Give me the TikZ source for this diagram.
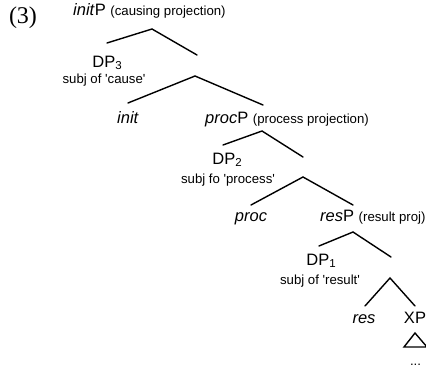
\documentclass[tikz,border=0pt]{standalone}
\usepackage{fontspec}
\setmainfont{Liberation Sans}
\newfontfamily\numfont{Liberation Serif}
\newcommand{\mainsz}{\fontsize{16.5}{18}\selectfont}
\newcommand{\smallsz}{\fontsize{13.2}{15}\selectfont}
\newcommand{\subsz}[1]{\raisebox{-2.5pt}{\fontsize{11.5}{12}\selectfont #1}}
\newcommand{\sq}{\textquotesingle}
\tikzset{
  lbl/.style={inner sep=0pt, anchor=base, font=\mainsz},
  note/.style={inner sep=0pt, anchor=base, font=\smallsz},
  branch/.style={line width=1.4pt, line cap=round}
}
\begin{document}
\begin{tikzpicture}[x=1pt,y=-1pt]
\useasboundingbox (0,0) rectangle (426,369);
% example number
\node[inner sep=0pt, anchor=base, font=\numfont\fontsize{24}{26}\selectfont] (num) at (23,24) {(3)};
% labels
\node[lbl, anchor=base west] (initP) at (73,16) {\textit{init}P {\smallsz (causing projection)}};
\node[lbl] (DP3) at (107,67) {DP\subsz{3}};
\node[note] (s3) at (104,84) {subj of \sq cause\sq};
\node[lbl] (init) at (128,123) {\textit{init}};
\node[lbl, anchor=base west] (procP) at (205,123) {\textit{proc}P {\smallsz (process projection)}};
\node[lbl] (DP2) at (227,164) {DP\subsz{2}};
\node[note] (s2) at (228,183) {subj fo \sq process\sq};
\node[lbl] (proc) at (251,221) {\textit{proc}};
\node[lbl, anchor=base west] (resP) at (320,221) {\textit{res}P {\smallsz (result proj)}};
\node[lbl] (DP1) at (321,265) {DP\subsz{1}};
\node[note] (s1) at (320,284) {subj of \sq result\sq};
\node[lbl] (res) at (364,323) {\textit{res}};
\node[lbl] (XP) at (415,323) {XP};
\node[note] (dots) at (415.5,365) {...};
% branch points
\coordinate (a1) at (152,29); \coordinate (l1) at (107,43); \coordinate (r1) at (197,55);
\coordinate (a2) at (195,76); \coordinate (l2) at (128,103); \coordinate (r2) at (263,105);
\coordinate (a3) at (262,131); \coordinate (l3) at (223,145); \coordinate (r3) at (303,157);
\coordinate (a4) at (303,177); \coordinate (l4) at (251,205); \coordinate (r4) at (353,205);
\coordinate (a5) at (353,232); \coordinate (l5) at (319,246); \coordinate (r5) at (391,257);
\coordinate (a6) at (390,278); \coordinate (l6) at (365,306); \coordinate (r6) at (415,306);
\draw[branch] (l1) -- (a1) -- (r1);
\draw[branch] (l2) -- (a2) -- (r2);
\draw[branch] (l3) -- (a3) -- (r3);
\draw[branch] (l4) -- (a4) -- (r4);
\draw[branch] (l5) -- (a5) -- (r5);
\draw[branch] (l6) -- (a6) -- (r6);
% triangle
\coordinate (t1) at (415,333); \coordinate (t2) at (404,347); \coordinate (t3) at (427,347);
\draw[line width=1.4pt, line join=miter] (t1) -- (t2) -- (t3) -- cycle;
\end{tikzpicture}
\end{document}
